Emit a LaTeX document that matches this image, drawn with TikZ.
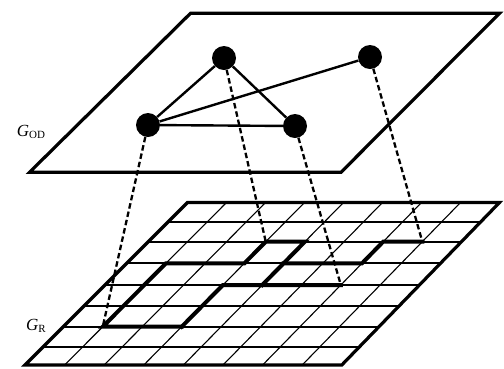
\documentclass[tikz,border=0pt]{standalone}
\usepackage{fontspec}
\setmainfont{Liberation Serif}
\newcommand{\glabel}[1]{{\fontsize{17}{19}\selectfont\textit{G}}{\fontsize{11}{13}\selectfont\raisebox{-2.5pt}{#1}}}
\begin{document}
\begin{tikzpicture}[x=1pt,y=-1pt,
  plane/.style={line width=3.2pt, line join=miter},
  hline/.style={line width=1.9pt},
  sline/.style={line width=1.1pt},
  route/.style={line width=4pt, line join=miter, line cap=rect},
  link/.style={line width=2.4pt},
  proj/.style={line width=2.3pt, dash pattern=on 5.5pt off 3pt},
  vertex/.style={circle, fill=black, minimum size=24pt, inner sep=0pt},
  lbl/.style={inner sep=0pt}]
\useasboundingbox[fill=white] (0,0) rectangle (504,368);
% grid coordinates
\foreach \j/\yy in {0/202.5,1/221.7,2/241.7,3/263.3,4/285,5/306,6/326.7,7/346.7,8/365}{
  \foreach \i in {0,...,8}{
    \coordinate (g\i-\j) at ({25+(365-\yy)+\i*(39.6-0.6*(365-\yy)/162.5)},\yy);
  }
}
% grid lines
\foreach \j in {1,...,7} \draw[hline] (g0-\j) -- (g8-\j);
\foreach \i in {1,...,7} \draw[sline] (g\i-0) -- (g\i-8);
\draw[plane] (g0-0) -- (g8-0) -- (g8-8) -- (g0-8) -- cycle;
% routes
\draw[route] (g3-6) -- (g1-6) -- (g1-3) -- (g3-3) -- (g3-2) -- (g4-2) -- (g4-4);
\draw[route] (g3-6) -- (g3-4) -- (g6-4);
\draw[route] (g4-3) -- (g6-3) -- (g6-2) -- (g7-2);
% top plane
\draw[plane] (29.5,172.3) -- (190.5,13.3) -- (499.5,13.3) -- (341,172.3) -- cycle;
% vertices
\node[vertex] (n1) at (148,125) {};
\node[vertex] (n2) at (224,58) {};
\node[vertex] (n3) at (295,126) {};
\node[vertex] (n4) at (370,57) {};
\draw[link] (n1) -- (n2);
\draw[link] (n1) -- (n3);
\draw[link] (n1) -- (n4);
\draw[link] (n2) -- (n3);
% projections
\draw[proj] (n1) -- (g1-6);
\draw[proj] (n2) -- (g3-2);
\draw[proj] (n3) -- (g6-4);
\draw[proj] (n4) -- (g7-2);
% labels
\node[lbl] (lod) at (31,132) {\glabel{OD}};
\node[lbl] (lr) at (36,326) {\glabel{R}};
\end{tikzpicture}
\end{document}
